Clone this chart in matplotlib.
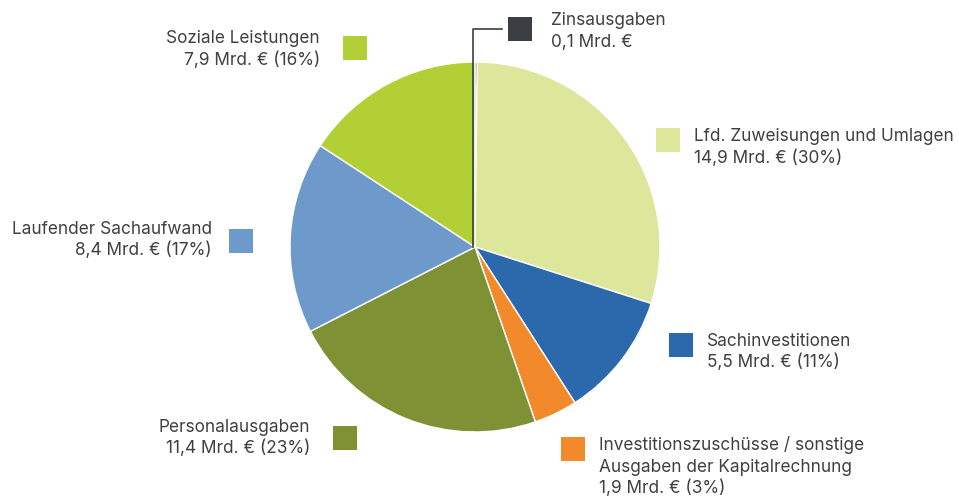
import matplotlib
matplotlib.use("Agg")
import matplotlib.pyplot as plt
from matplotlib.patches import Rectangle

categories = ["Zinsausgaben", "Lfd. Zuweisungen und Umlagen", "Sachinvestitionen",
              "Investitionszuschüsse / sonstige\nAusgaben der Kapitalrechnung",
              "Personalausgaben", "Laufender Sachaufwand", "Soziale Leistungen"]
values = [0.1, 14.9, 5.5, 1.9, 11.4, 8.4, 7.9]
value_labels = ["0,1 Mrd. €", "14,9 Mrd. € (30%)", "5,5 Mrd. € (11%)", "1,9 Mrd. € (3%)",
                "11,4 Mrd. € (23%)", "8,4 Mrd. € (17%)", "7,9 Mrd. € (16%)"]
colors = ["#3b3f43", "#dce79b", "#2b69ac", "#f28a2c", "#7f9135", "#6e9acb", "#b2cf35"]

W, H = 959, 497
fig = plt.figure(figsize=(W / 100, H / 100), dpi=100)
plt.rcParams['font.family'] = ['Inter', 'DejaVu Sans']

cx, cy, r = 475, 247, 185
ax = fig.add_axes([(cx - r) / W, (H - cy - r) / H, 2 * r / W, 2 * r / H])
ax.pie(values, colors=colors, startangle=90, counterclock=False,
       wedgeprops=dict(edgecolor="white", linewidth=1.0))
ax.set_aspect("equal")
ax.set_xlim(-1, 1)
ax.set_ylim(-1, 1)

# overlay axes in pixel coordinates for legend-like labels
ov = fig.add_axes([0, 0, 1, 1], facecolor="none")
ov.set_xlim(0, W)
ov.set_ylim(H, 0)
ov.axis("off")

txt_color = "#404040"
fs = 12.4
# (square x, square y, text x, first baseline y, align)
layout = [
    (508, 17, 551, 25, "left"),
    (656, 128, 694, 141, "left"),
    (669, 333, 707, 346, "left"),
    (561, 437, 599, 450, "left"),
    (333, 426, 310, 432, "right"),
    (229, 229, 212, 234, "right"),
    (343, 36, 320, 43, "right"),
]
for i, (sx, sy, tx, ty, ha) in enumerate(layout):
    ov.add_patch(Rectangle((sx, sy), 24, 24, facecolor=colors[i], edgecolor="none"))
    lines = (categories[i] + "\n" + value_labels[i]).split("\n")
    for k, line in enumerate(lines):
        ov.text(tx, ty + 21.5 * k, line, ha=ha, va="baseline",
                fontsize=fs, color=txt_color)

# leader line for Zinsausgaben
ov.plot([473, 473, 502], [247, 29, 29], color="#3b3f43", lw=1.2)

fig.savefig("out.png", dpi=100)
